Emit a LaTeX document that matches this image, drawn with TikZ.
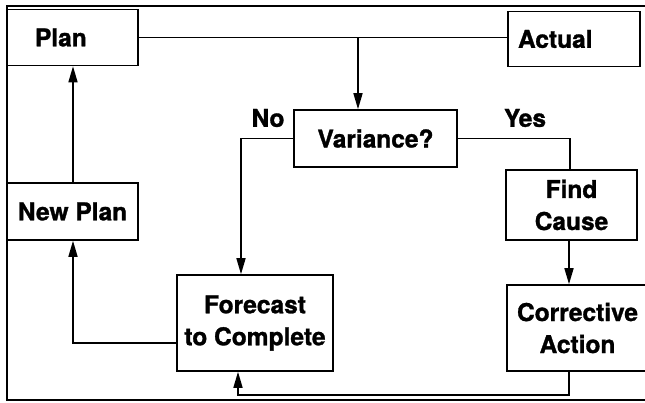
\documentclass[tikz,border=0pt]{standalone}
\usepackage{fontspec}
\setmainfont{TeX Gyre Heros}[BoldFeatures={FakeBold=1.2}]
\usetikzlibrary{arrows.meta}
\begin{document}
\begin{tikzpicture}[x=1pt,y=-1pt,
  line width=1.6pt,
  boxnode/.style={draw, rectangle, fill=white, inner sep=0pt, align=center,
    font=\fontsize{24.5}{32}\selectfont\bfseries},
  arr/.style={-{Triangle[length=16pt,width=9pt]}},
  lbl/.style={font=\fontsize{24.5}{30}\selectfont\bfseries, inner sep=0pt}]
\useasboundingbox (0,0) rectangle (645,402);
% outer frame
\draw (645,6) -- (7,6) -- (7,400) -- (645,400);
% boxes
\node[boxnode, minimum width=131pt, minimum height=56pt, align=left, text width=75pt, inner xsep=28pt] (plan) at (72.5,37.5) {Plan};
\node[boxnode, minimum width=132pt, minimum height=55pt, align=left, text width=112pt, inner xsep=10pt] (actual) at (574,39) {Actual};
\node[boxnode, minimum width=163pt, minimum height=57pt] (var) at (375.5,138.5) {Variance?};
\node[boxnode, minimum width=131pt, minimum height=57pt] (newplan) at (72.5,211.5) {New Plan};
\node[boxnode, minimum width=131pt, minimum height=70pt] (cause) at (571.5,205) {Find\\Cause};
\node[boxnode, minimum width=156pt, minimum height=96pt] (fc) at (255,323) {Forecast\\to Complete};
\node[boxnode, minimum width=141pt, minimum height=86pt] (ca) at (577.5,328) {Corrective\\Action};
% labels
\node[lbl] (no) at (268,118) {No};
\node[lbl] (yes) at (525,118) {Yes};
% connectors
\coordinate (j) at (358,37.5);
\draw (plan.east) -- (plan.east -| actual.west);
\draw[arr] (j) -- (j |- var.north);
\coordinate (nocorner) at (241,138.5);
\draw[arr] (var.west) -- (nocorner) -- (nocorner |- fc.north);
\coordinate (yescorner) at (570,138.5);
\draw (var.east) -- (yescorner) -- (yescorner |- cause.north);
\coordinate (fcx) at (569,240);
\draw[arr] (fcx |- cause.south) -- (fcx |- ca.north);
\coordinate (b1) at (569,395);
\coordinate (b2) at (238,395);
\draw[arr] (b1 |- ca.south) -- (b1) -- (b2) -- (b2 |- fc.south);
\coordinate (l1) at (177,343);
\coordinate (l2) at (73,343);
\draw[arr] (l1 -| fc.west) -- (l2) -- (l2 |- newplan.south);
\coordinate (up) at (73,150);
\draw[arr] (up |- newplan.north) -- (up |- plan.south);
\end{tikzpicture}
\end{document}
